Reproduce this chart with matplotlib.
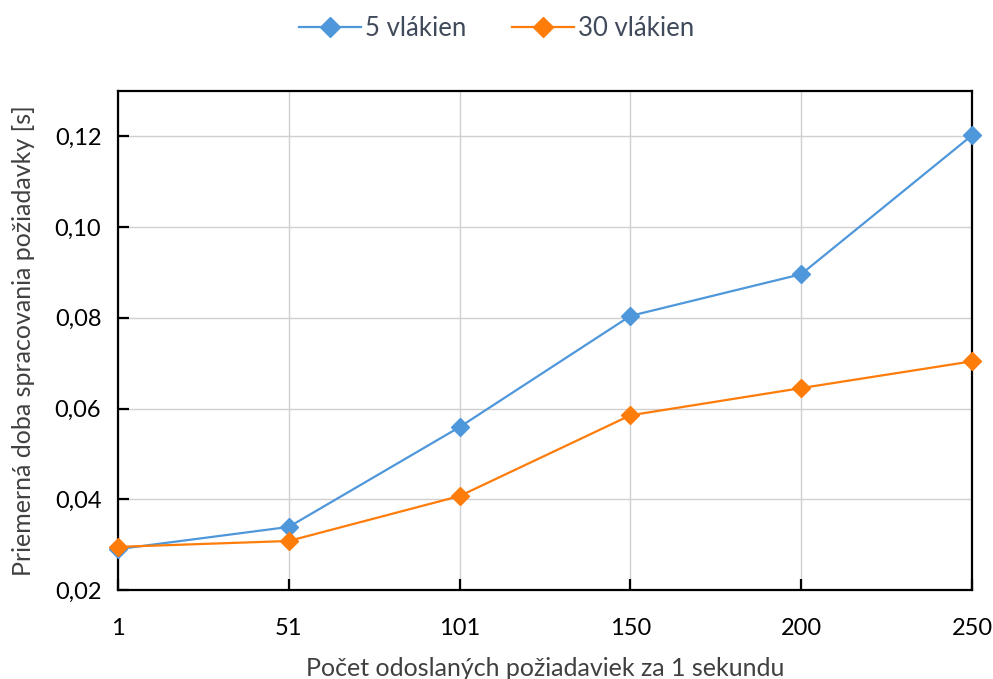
import matplotlib.pyplot as plt
from matplotlib.ticker import FuncFormatter

plt.rcParams['font.family'] = ['Lato', 'DejaVu Sans']

kategorie = ['1', '51', '101', '150', '200', '250']
vlakna_5 = [0.0290, 0.0339, 0.0559, 0.0804, 0.0896, 0.1202]
vlakna_30 = [0.0295, 0.0308, 0.0407, 0.0585, 0.0645, 0.0704]

fig = plt.figure(figsize=(9.93, 6.79), dpi=100)
ax = fig.add_axes([0.1188, 0.1311, 0.86, 0.735])

x = list(range(len(kategorie)))
ax.plot(x, vlakna_5, color='#4f97db', lw=1.6, marker='D', ms=9, label='5 vlákien', clip_on=False, zorder=3)
ax.plot(x, vlakna_30, color='#fe7c0a', lw=1.6, marker='D', ms=9, label='30 vlákien', clip_on=False, zorder=4)

ax.set_xlim(0, 5)
ax.set_ylim(0.02, 0.13)
ax.set_xticks(x)
ax.set_xticklabels(kategorie)
ax.set_yticks([0.02, 0.04, 0.06, 0.08, 0.10, 0.12])
ax.yaxis.set_major_formatter(FuncFormatter(lambda v, p: f"{v:.2f}".replace('.', ',')))
ax.grid(True, color='#d0d0d0', lw=1)
ax.set_axisbelow(True)
for s in ax.spines.values():
    s.set_linewidth(1.6)
    s.set_color('black')
ax.tick_params(direction='in', length=8, width=1.6, labelsize=17, colors='black')
ax.tick_params(axis='x', pad=20)
ax.tick_params(axis='y', pad=12)

ax.set_xlabel('Počet odoslaných požiadaviek za 1 sekundu', fontsize=18, color='#404040', labelpad=13)
ax.set_ylabel('Priemerná doba spracovania požiadavky [s]', fontsize=18, color='#404040', labelpad=14)

fig.legend(loc='upper center', bbox_to_anchor=(0.5, 1.01), ncol=2, frameon=False,
           fontsize=18.5, handlelength=2.4, handletextpad=0.15, columnspacing=1.8,
           markerscale=1.1, labelcolor='#404a5a')

fig.savefig('out.png', dpi=100)
